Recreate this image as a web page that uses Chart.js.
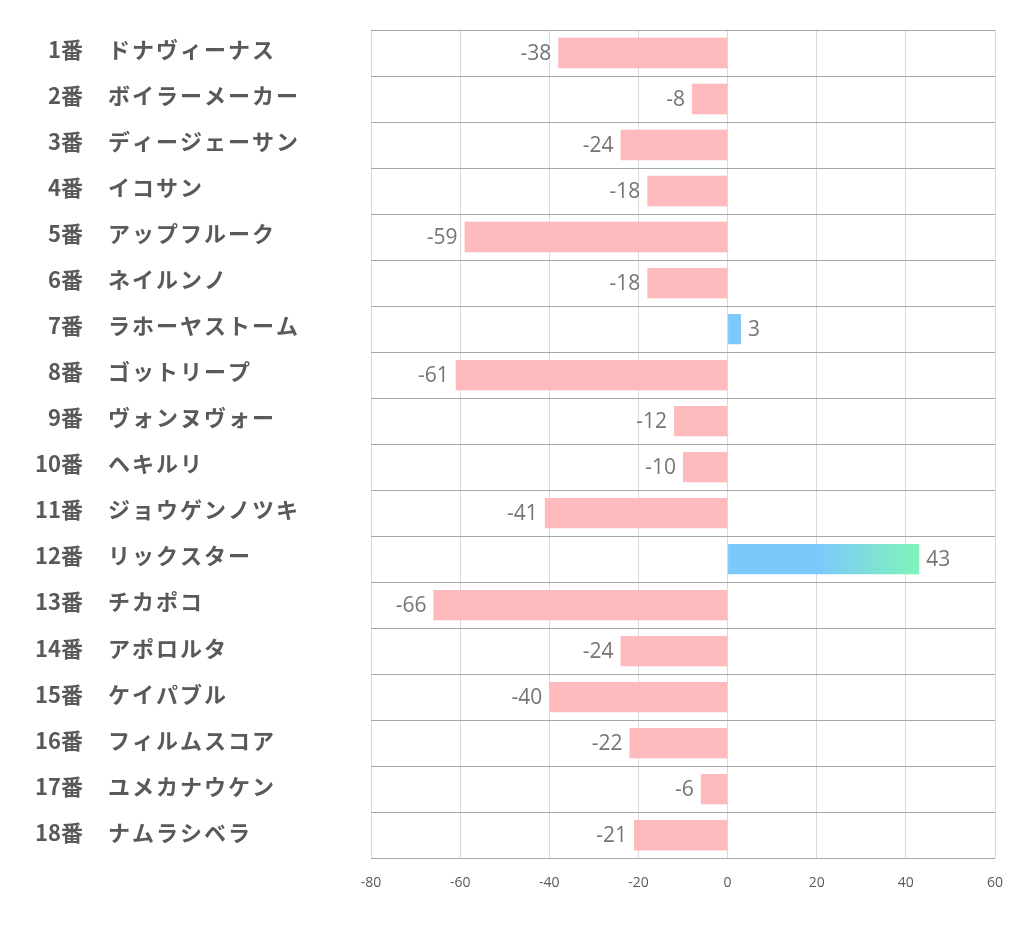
<!DOCTYPE html>
<html>
<head>
<meta charset="utf-8">
<script src="https://cdn.jsdelivr.net/npm/chart.js@4"></script>
<style>
  html, body { margin: 0; padding: 0; background: #fff; }
  #wrap { width: 1022px; height: 939px; }
</style>
</head>
<body>
<div id="wrap"><canvas id="myChart" width="1022" height="939"></canvas></div>
<script>
// data
var horseNumbers = ["1番", "2番", "3番", "4番", "5番", "6番", "7番", "8番", "9番",
  "10番", "11番", "12番", "13番", "14番", "15番", "16番", "17番", "18番"];
var horseNames = ["ドナヴィーナス", "ボイラーメーカー", "ディージェーサン", "イコサン",
  "アップフルーク", "ネイルンノ", "ラホーヤストーム", "ゴットリープ", "ヴォンヌヴォー",
  "ヘキルリ", "ジョウゲンノツキ", "リックスター", "チカポコ", "アポロルタ",
  "ケイパブル", "フィルムスコア", "ユメカナウケン", "ナムラシベラ"];
var scores = [-38, -8, -24, -18, -59, -18, 3, -61, -12, -10, -41, 43, -66, -24, -40, -22, -6, -21];
var xMin = -80, xMax = 60, xStep = 20;

var PINK = "rgba(255, 182, 185, 0.95)";
var BLUE = "#7DC8FB";
var GREEN = "#7EF5B8";

function barColor(ctx) {
  var v = ctx.raw;
  if (v < 0) return PINK;
  var chart = ctx.chart;
  var xs = chart.scales.x;
  if (!xs || !chart.chartArea || v < 20) return BLUE;
  var x0 = xs.getPixelForValue(0);
  var x1 = xs.getPixelForValue(v);
  var g = chart.ctx.createLinearGradient(x0, 0, x1, 0);
  g.addColorStop(0, BLUE);
  g.addColorStop(0.47, BLUE);
  g.addColorStop(1, GREEN);
  return g;
}

// row labels: number right aligned, name left aligned
var rowLabels = {
  id: "rowLabels",
  afterDraw: function (chart) {
    var ctx = chart.ctx;
    var ys = chart.scales.y;
    ctx.save();
    ctx.fillStyle = "#595959";
    ctx.font = "bold 22px 'Noto Sans CJK JP', 'Noto Sans', sans-serif";
    ctx.textBaseline = "middle";
    for (var i = 0; i < horseNumbers.length; i++) {
      var y = ys.getPixelForValue(i) - 3;
      ctx.letterSpacing = "0px";
      ctx.textAlign = "right";
      ctx.fillText(horseNumbers[i], 83, y);
      ctx.letterSpacing = "2px";
      ctx.textAlign = "left";
      ctx.fillText(horseNames[i], 108, y);
    }
    ctx.restore();
  }
};

// value labels beside bar ends
var valueLabels = {
  id: "valueLabels",
  afterDatasetsDraw: function (chart) {
    var ctx = chart.ctx;
    var meta = chart.getDatasetMeta(0);
    ctx.save();
    ctx.fillStyle = "#757575";
    ctx.font = "21px 'Open Sans', sans-serif";
    ctx.textBaseline = "middle";
    meta.data.forEach(function (bar, i) {
      var v = scores[i];
      if (v < 0) {
        ctx.textAlign = "right";
        ctx.fillText(String(v), bar.x - 7, bar.y + 1);
      } else {
        ctx.textAlign = "left";
        ctx.fillText(String(v), bar.x + 7, bar.y + 1);
      }
    });
    ctx.restore();
  }
};

var ctx = document.getElementById("myChart").getContext("2d");

var myChart = new Chart(ctx, {
  type: "bar",
  data: {
    labels: horseNumbers,
    datasets: [
      {
        data: scores,
        backgroundColor: barColor,
        borderWidth: 0,
        barPercentage: 0.66,
        categoryPercentage: 1,
      },
    ],
  },
  options: {
    indexAxis: "y",
    responsive: false,
    animation: false,
    layout: { padding: { left: 371, right: 27, top: 30, bottom: 32 } },
    plugins: { legend: { display: false }, tooltip: { enabled: false } },
    scales: {
      x: {
        min: xMin,
        max: xMax,
        ticks: {
          stepSize: xStep,
          color: "#595959",
          font: { family: "'Open Sans', sans-serif", size: 14 },
          padding: 16,
        },
        grid: { color: "#d9d9d9", drawTicks: false },
        border: { display: false },
      },
      y: {
        ticks: { display: false },
        grid: { color: "#a6a6a6", drawTicks: false, offset: true },
        border: { display: false },
      },
    },
  },
  plugins: [rowLabels, valueLabels],
});
</script>
</body>
</html>
